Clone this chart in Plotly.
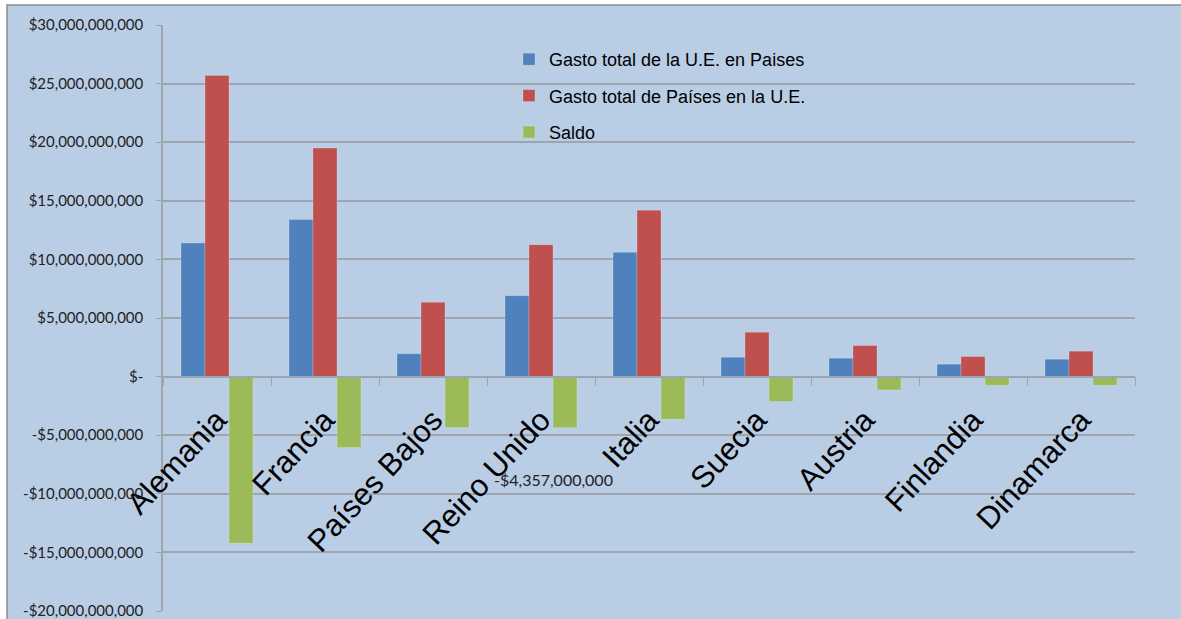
import plotly.graph_objects as go

# ---- data ----
paises = ["Alemania", "Francia", "Países Bajos", "Reino Unido", "Italia",
          "Suecia", "Austria", "Finlandia", "Dinamarca"]
gasto_ue_en_paises = [11.4e9, 13.4e9, 1.95e9, 6.9e9, 10.6e9, 1.65e9, 1.57e9, 1.06e9, 1.48e9]
gasto_paises_en_ue = [25.7e9, 19.5e9, 6.35e9, 11.257e9, 14.2e9, 3.79e9, 2.65e9, 1.71e9, 2.17e9]
saldo = [-14.22e9, -6.06e9, -4.35e9, -4.357e9, -3.64e9, -2.13e9, -1.14e9, -0.74e9, -0.74e9]

series_names = ["Gasto total de la U.E. en Paises", "Gasto total de Países en la U.E.", "Saldo"]
series_colors = ["#4F81BD", "#C0504D", "#9BBB59"]

y_tickvals = [30e9, 25e9, 20e9, 15e9, 10e9, 5e9, 0, -5e9, -10e9, -15e9, -20e9]
y_ticktext = ["$30,000,000,000", "$25,000,000,000", "$20,000,000,000", "$15,000,000,000",
              "$10,000,000,000", "$5,000,000,000", "$-", "-$5,000,000,000",
              "-$10,000,000,000", "-$15,000,000,000", "-$20,000,000,000"]
y_range = [-20e9, 30e9]

labelled_country = "Reino Unido"

# ---- figure ----
W, H = 1181, 619
ml, mr, mt, mb = 163, 46, 25, 8
pw, ph = W - ml - mr, H - mt - mb

BG = "#B9CDE5"
GRID = "#9EA5AE"

fig = go.Figure()
for i, (name, vals, col) in enumerate(zip(series_names,
                                          [gasto_ue_en_paises, gasto_paises_en_ue, saldo],
                                          series_colors)):
    fig.add_trace(go.Bar(
        x=paises, y=vals, name=name, marker_color=col,
        marker_line=dict(color="rgba(255,255,255,0.35)", width=0.6),
        legendgroup=f"g{i}", hoverinfo="skip",
    ))

# data label for Reino Unido saldo
idx = paises.index(labelled_country)
v = saldo[idx]
fig.add_annotation(
    x=labelled_country, y=v, xref="x", yref="y",
    text=("-" if v < 0 else "") + "${:,.0f}".format(abs(v)),
    showarrow=False, xshift=12, yshift=-52,
    font=dict(family="Lato", size=16, color="#222222"),
)

# outer chart-area frame
def px2x(px):
    return (px - ml) / pw

def py2y(py):
    return (H - mb - py) / ph

fig.add_shape(type="rect", xref="paper", yref="paper",
              x0=px2x(7), x1=px2x(W + 10), y0=py2y(H + 10), y1=py2y(5),
              fillcolor=BG, line=dict(color="#8C8C8C", width=1.5), layer="below")

zero_pos = (0 - y_range[0]) / (y_range[1] - y_range[0])

fig.update_layout(
    width=W, height=H,
    margin=dict(l=ml, r=mr, t=mt, b=mb, autoexpand=False),
    paper_bgcolor="white",
    plot_bgcolor="rgba(0,0,0,0)",
    barmode="group", bargap=1/3, bargroupgap=0,
    showlegend=True,
    legend=dict(x=px2x(509), y=py2y(41), xanchor="left", yanchor="top",
                bgcolor="rgba(0,0,0,0)", tracegroupgap=10,
                font=dict(family="Liberation Sans", size=18, color="black"),
                itemclick=False, itemdoubleclick=False),
    xaxis=dict(
        anchor="free", position=zero_pos,
        showgrid=False, showline=True, linecolor=GRID, linewidth=1.5,
        ticks="outside", tickson="boundaries", ticklen=9, tickcolor=GRID, tickwidth=1,
        tickangle=-47, ticklabelstandoff=12,
        tickfont=dict(family="Liberation Sans", size=31, color="black"),
        automargin=False, fixedrange=True,
    ),
    yaxis=dict(
        range=y_range, tickvals=y_tickvals, ticktext=y_ticktext,
        showgrid=True, gridcolor=GRID, gridwidth=1.5,
        showline=True, linecolor=GRID, linewidth=1.5,
        ticks="outside", ticklen=5, tickcolor=GRID,
        tickfont=dict(family="Lato", size=15, color="#222222"),
        ticklabelstandoff=10, ticklabeloverflow="allow",
        zeroline=False, automargin=False, fixedrange=True,
    ),
)

fig.write_html("out.html", config={"displayModeBar": False},
               post_script="document.body.style.margin='0';document.body.style.overflow='hidden';")
